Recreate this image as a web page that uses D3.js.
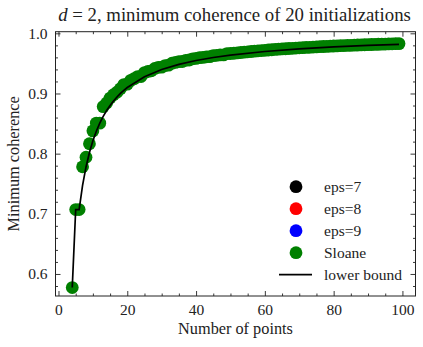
<!DOCTYPE html>
<html>
<head>
<meta charset="utf-8">
<script src="https://cdn.jsdelivr.net/npm/d3@7"></script>
<style>
    body { margin: 0; background: #fff; }
    svg { display: block; font-family: "Liberation Serif", "DejaVu Serif", serif; }
</style>
</head>
<body>
<svg id="graph" width="423" height="347"></svg>
<script>
// number of points (x) and minimum coherence of the Sloane packings
const sloane_n = [
    4, 5, 6, 7, 8, 9, 10, 11, 12, 13, 14, 15, 16, 17, 18, 19, 20, 21, 22, 23,
    24, 25, 26, 27, 28, 29, 30, 31, 32, 33, 34, 35, 36, 37, 38, 39, 40, 41, 42, 43,
    44, 45, 46, 47, 48, 49, 50, 51, 52, 53, 54, 55, 56, 57, 58, 59, 60, 61, 62, 63,
    64, 65, 66, 67, 68, 69, 70, 71, 72, 73, 74, 75, 76, 77, 78, 79, 80, 81, 82, 83,
    84, 85, 86, 87, 88, 89, 90, 91, 92, 93, 94, 95, 96, 97, 98, 99,
];
const sloane_mu = [
    0.5774, 0.7071, 0.7071, 0.7781, 0.7941, 0.8165, 0.8379, 0.8507, 0.8507, 0.8782,
    0.8843, 0.8924, 0.8979, 0.9022, 0.9079, 0.9147, 0.9156, 0.9218, 0.9247, 0.9281,
    0.9282, 0.9347, 0.9366, 0.9377, 0.9416, 0.9435, 0.9438, 0.9464, 0.9470, 0.9504,
    0.9516, 0.9529, 0.9532, 0.9552, 0.9557, 0.9576, 0.9584, 0.9595, 0.9600, 0.9610,
    0.9613, 0.9629, 0.9635, 0.9641, 0.9642, 0.9661, 0.9665, 0.9669, 0.9675, 0.9681,
    0.9687, 0.9693, 0.9698, 0.9704, 0.9709, 0.9714, 0.9718, 0.9723, 0.9727, 0.9732,
    0.9736, 0.9740, 0.9744, 0.9748, 0.9751, 0.9755, 0.9759, 0.9762, 0.9765, 0.9768,
    0.9772, 0.9775, 0.9778, 0.9781, 0.9783, 0.9786, 0.9789, 0.9791, 0.9794, 0.9796,
    0.9799, 0.9801, 0.9803, 0.9806, 0.9808, 0.9810, 0.9812, 0.9814, 0.9816, 0.9818,
    0.9820, 0.9822, 0.9824, 0.9826, 0.9828, 0.9829,
];
// lower bound curve
const bound_n = [4, 5, 6, 7, 8, 9, 10, 11, 12, 13, 14, 15, 16, 17, 18, 19, 20, 25, 30, 35, 40, 45, 50, 60, 70, 80, 90, 99];
const bound_mu = [
    0.5774, 0.7071, 0.7071, 0.7472, 0.7779, 0.8020, 0.8214, 0.8373, 0.8507, 0.8620,
    0.8717, 0.8802, 0.8876, 0.8942, 0.9000, 0.9052, 0.9099, 0.9279, 0.9398, 0.9484,
    0.9548, 0.9598, 0.9638, 0.9698, 0.9741, 0.9774, 0.9799, 0.9817,
];
const legend_labels = ["eps=7", "eps=8", "eps=9", "Sloane", "lower bound"];
const legend_colors = ["#000000", "#ff0000", "#0000ff", "#008000", "#000000"];
const x_ticks = [0, 20, 40, 60, 80, 100];
const y_ticks = [0.6, 0.7, 0.8, 0.9, 1.0];

const svg = d3.select("#graph");
const m = { left: 55.5, right: 415.5, top: 31.7, bottom: 296 };

const x = d3.scaleLinear().domain([-0.87, 103.8]).range([m.left, m.right]);
const y = d3.scaleLinear().domain([0.5634, 1.0027]).range([m.bottom, m.top]);

const plot = svg.append("g");
plot.append("clipPath").attr("id", "clip")
    .append("rect")
    .attr("x", m.left).attr("y", m.top)
    .attr("width", m.right - m.left).attr("height", m.bottom - m.top);

const pts = sloane_n.map((n, i) => [n, sloane_mu[i]]);
plot.append("g")
    .attr("clip-path", "url(#clip)")
    .selectAll("circle")
    .data(pts)
    .join("circle")
    .attr("cx", (d) => x(d[0]))
    .attr("cy", (d) => y(d[1]))
    .attr("r", 6.4)
    .attr("fill", "#008000");

const bound = bound_n.map((n, i) => [n, bound_mu[i]]);
plot.append("path")
    .attr("d", d3.line().x((d) => x(d[0])).y((d) => y(d[1]))(bound))
    .attr("stroke", "black")
    .attr("fill", "none")
    .attr("stroke-width", 1.7);

// ticks on all four sides, pointing inwards
const xb = d3.axisBottom(x).tickValues(x_ticks).tickSizeInner(-5).tickSizeOuter(0).tickPadding(8);
const xt = d3.axisTop(x).tickValues(x_ticks).tickSizeInner(-5).tickSizeOuter(0).tickFormat("");
const yl = d3.axisLeft(y).tickValues(y_ticks).tickSizeInner(-5).tickSizeOuter(0).tickPadding(8).tickFormat(d3.format(".1f"));
const yr = d3.axisRight(y).tickValues(y_ticks).tickSizeInner(-5).tickSizeOuter(0).tickFormat("");

const x_minor = d3.range(5, 104, 5).filter((v) => v % 20 != 0);
const y_minor = d3.range(0.58, 1.0, 0.02).filter((v) => Math.abs(v * 10 - Math.round(v * 10)) > 0.01);

const xb_m = d3.axisBottom(x).tickValues(x_minor).tickSizeInner(-2.5).tickSizeOuter(0).tickFormat("");
const xt_m = d3.axisTop(x).tickValues(x_minor).tickSizeInner(-2.5).tickSizeOuter(0).tickFormat("");
const yl_m = d3.axisLeft(y).tickValues(y_minor).tickSizeInner(-2.5).tickSizeOuter(0).tickFormat("");
const yr_m = d3.axisRight(y).tickValues(y_minor).tickSizeInner(-2.5).tickSizeOuter(0).tickFormat("");

function put(ax, tx, ty) {
    const g = svg.append("g").attr("transform", `translate(${tx},${ty})`).call(ax);
    g.select(".domain").remove();
    g.selectAll("line").attr("stroke", "#222").attr("stroke-width", 0.9);
    g.selectAll("text").attr("font-family", "Liberation Serif").attr("font-size", 15.5).attr("fill", "#222");
    return g;
}
put(xb, 0, m.bottom);
put(xt, 0, m.top);
put(yl, m.left, 0);
put(yr, m.right, 0);
put(xb_m, 0, m.bottom);
put(xt_m, 0, m.top);
put(yl_m, m.left, 0);
put(yr_m, m.right, 0);

svg.append("rect")
    .attr("x", m.left).attr("y", m.top)
    .attr("width", m.right - m.left).attr("height", m.bottom - m.top)
    .attr("fill", "none")
    .attr("stroke", "#222")
    .attr("stroke-width", 1);

// title
const title = svg.append("text")
    .attr("x", (m.left + m.right) / 2 - 1)
    .attr("y", 21)
    .attr("text-anchor", "middle")
    .attr("font-size", 18.8)
    .attr("fill", "#222");
title.append("tspan").attr("font-style", "italic").text("d");
title.append("tspan").text(" = 2, minimum coherence of 20 initializations");

svg.append("text")
    .attr("x", (m.left + m.right) / 2)
    .attr("y", 334)
    .attr("text-anchor", "middle")
    .attr("font-size", 16.3)
    .attr("fill", "#222")
    .text("Number of points");

svg.append("text")
    .attr("transform", `translate(19,${(m.top + m.bottom) / 2}) rotate(-90)`)
    .attr("text-anchor", "middle")
    .attr("font-size", 16.3)
    .attr("fill", "#222")
    .text("Minimum coherence");

// legend
const leg = svg.append("g");
legend_labels.forEach((lab, i) => {
    const ly = 186.7 + i * 22;
    if (i < 4) {
        leg.append("circle")
            .attr("cx", 296).attr("cy", ly)
            .attr("r", 6.4)
            .attr("fill", legend_colors[i]);
    } else {
        leg.append("line")
            .attr("x1", 279).attr("x2", 312)
            .attr("y1", ly).attr("y2", ly)
            .attr("stroke", legend_colors[i])
            .attr("stroke-width", 1.7);
    }
    leg.append("text")
        .attr("x", 324).attr("y", ly + 5)
        .attr("font-size", 15.5)
        .attr("fill", "#222")
        .text(lab);
});
</script>
</body>
</html>
